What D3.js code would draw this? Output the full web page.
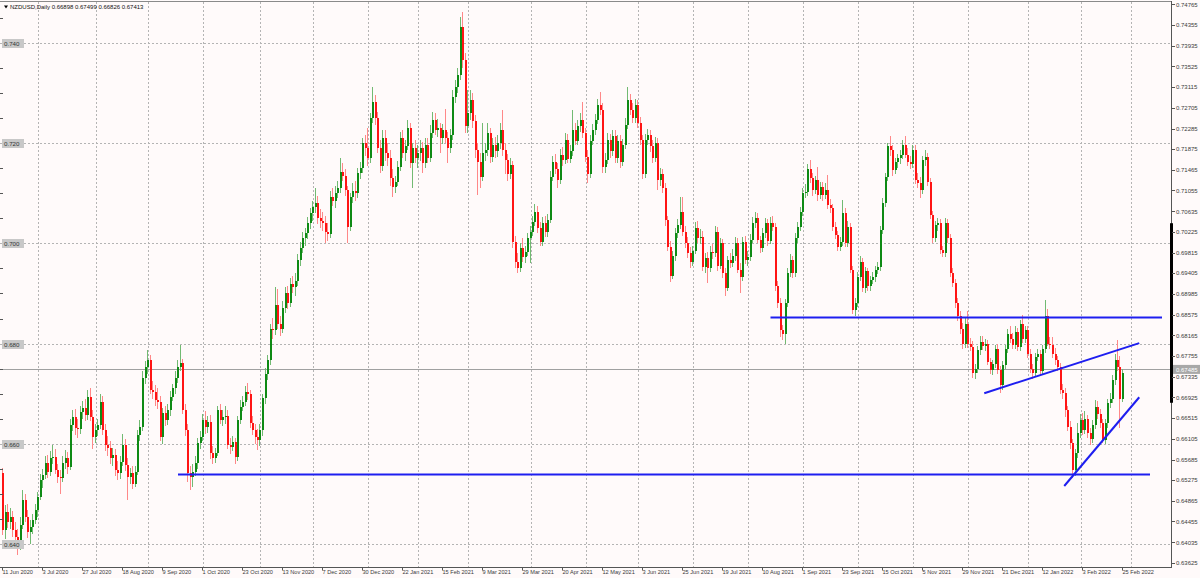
<!DOCTYPE html>
<html><head><meta charset="utf-8">
<script src="https://cdn.jsdelivr.net/npm/d3@7"></script>
<style>
html,body{margin:0;padding:0;background:#fffafa;overflow:hidden;}
svg{display:block;font-family:"Liberation Sans",Arial,sans-serif;}
</style></head><body>
<svg id="chart" width="1200" height="578"></svg>
<script>
// ---------------- DATA ----------------
const symbolTitle = "NZDUSD,Daily";
const lastBarText = ["0.66898", "0.67499", "0.66826", "0.67413"];

const open = [
.6541,.6428,.6465,.6445,.6455,.6428,.6415,.6395,.6438,.6488,
.6455,.6425,.6435,.6448,.6468,.6495,.6528,.6538,.6561,.6544,
.6571,.6574,.6548,.6534,.6531,.6561,.6571,.6554,.6637,.6653,
.6631,.6629,.6664,.6671,.6657,.6694,.6654,.6614,.6628,.6637,
.6684,.6628,.6598,.6591,.6571,.6578,.6548,.6541,.6564,.6598,
.6558,.6534,.6541,.6521,.6544,.6618,.6634,.6731,.6754,.6767,
.6707,.6704,.6687,.6684,.6614,.6661,.6647,.6667,.6694,.6711,
.6731,.6754,.6761,.6667,.6628,.6541,.6534,.6544,.6561,.6601,
.6614,.6647,.6634,.6644,.6581,.6571,.6581,.6667,.6647,.6653,
.6656,.6598,.6594,.6604,.6574,.6647,.6674,.6684,.6704,.6700,
.6641,.6628,.6614,.6608,.6627,.6691,.6740,.6767,.6830,.6827,
.6877,.6840,.6830,.6870,.6900,.6880,.6918,.6912,.6925,.6967,
.6990,.7010,.7020,.7040,.7060,.7073,.7080,.7050,.7045,.7040,
.7022,.7018,.7093,.7085,.7100,.7110,.7143,.7135,.7106,.7033,
.7093,.7105,.7100,.7140,.7150,.7199,.7190,.7170,.7249,.7282,
.7249,.7190,.7155,.7210,.7180,.7170,.7130,.7113,.7123,.7153,
.7210,.7180,.7193,.7230,.7160,.7190,.7170,.7180,.7190,.7160,
.7195,.7170,.7220,.7245,.7225,.7230,.7210,.7225,.7210,.7190,
.7215,.7292,.7312,.7335,.7432,.7365,.7233,.7260,.7286,.7243,
.7186,.7163,.7133,.7180,.7186,.7219,.7173,.7196,.7183,.7199,
.7226,.7186,.7166,.7139,.7156,.7003,.6963,.6950,.6990,.6973,
.6983,.7010,.7023,.7043,.7063,.7030,.7003,.7040,.7023,.7046,
.7133,.7163,.7149,.7126,.7176,.7166,.7206,.7169,.7183,.7226,
.7203,.7233,.7246,.7219,.7173,.7139,.7203,.7226,.7246,.7276,
.7266,.7153,.7166,.7206,.7183,.7213,.7170,.7203,.7163,.7196,
.7236,.7286,.7266,.7250,.7276,.7240,.7206,.7139,.7206,.7216,
.7193,.7170,.7200,.7126,.7139,.7110,.7046,.6993,.6935,.6975,
.7020,.7037,.7063,.7023,.7000,.6980,.6963,.6985,.7030,.7010,
.7013,.6953,.6970,.6950,.6983,.6980,.7023,.6955,.7000,.6940,
.6910,.6967,.6960,.6975,.7000,.6947,.6933,.7003,.6967,.6972,
.7007,.7040,.7050,.7007,.6990,.7020,.7040,.7005,.7040,.7033,
.6914,.6880,.6827,.6820,.6880,.6940,.6967,.6940,.7010,.7033,
.7063,.7100,.7103,.7149,.7130,.7106,.7126,.7096,.7113,.7096,
.7106,.7076,.7070,.7033,.7016,.6993,.7003,.7060,.7000,.7033,
.6947,.6867,.6880,.6933,.6963,.6910,.6944,.6914,.6927,.6933,
.6947,.6953,.7026,.7080,.7133,.7193,.7186,.7146,.7163,.7170,
.7176,.7196,.7176,.7163,.7159,.7186,.7126,.7120,.7106,.7166,
.7173,.7123,.7056,.7010,.7036,.7040,.6987,.6980,.7040,.7010,
.6940,.6920,.6880,.6854,.6830,.6800,.6840,.6800,.6794,.6741,
.6750,.6787,.6804,.6796,.6800,.6764,.6747,.6760,.6790,.6747,
.6717,.6757,.6790,.6820,.6810,.6798,.6824,.6794,.6840,.6810,
.6827,.6780,.6750,.6741,.6774,.6780,.6745,.6790,.6854,.6800,
.6797,.6780,.6767,.6754,.6707,.6701,.6668,.6634,.6601,.6548,
.6581,.6621,.6648,.6628,.6650,.6621,.6610,.6638,.6674,.6660,
.6641,.6608,.6641,.6681,.6690,.6727,.6767,.6754,.66898
];
const high = [
.6552,.6478,.6481,.6472,.6466,.6445,.6430,.6455,.6508,.6501,
.6468,.6448,.6460,.6480,.6505,.6540,.6550,.6575,.6578,.6585,
.6598,.6590,.6560,.6548,.6575,.6588,.6584,.6650,.6668,.6670,
.6650,.6676,.6685,.6690,.6708,.6712,.6668,.6640,.6650,.6700,
.6695,.6640,.6615,.6605,.6592,.6590,.6565,.6575,.6620,.6610,
.6572,.6552,.6555,.6555,.6628,.6648,.6745,.6765,.6787,.6778,
.6725,.6718,.6712,.6695,.6672,.6675,.6680,.6705,.6720,.6745,
.6768,.6797,.6770,.6680,.6640,.6555,.6560,.6575,.6612,.6625,
.6660,.6665,.6655,.6658,.6595,.6592,.6675,.6680,.6668,.6675,
.6668,.6612,.6615,.6612,.6655,.6688,.6695,.6715,.6721,.6708,
.6655,.6640,.6630,.6640,.6700,.6752,.6778,.6840,.6851,.6912,
.6909,.6855,.6885,.6912,.6915,.6930,.6935,.6940,.6978,.7002,
.7022,.7030,.7052,.7070,.7085,.7110,.7095,.7068,.7062,.7055,
.7040,.7105,.7110,.7115,.7125,.7170,.7160,.7148,.7115,.7100,
.7120,.7125,.7150,.7162,.7210,.7215,.7230,.7260,.7312,.7295,
.7262,.7205,.7225,.7225,.7200,.7185,.7148,.7135,.7165,.7222,
.7225,.7205,.7245,.7240,.7200,.7205,.7195,.7205,.7202,.7210,
.7210,.7235,.7262,.7260,.7248,.7240,.7238,.7268,.7222,.7228,
.7305,.7325,.7350,.7452,.7462,.7380,.7306,.7306,.7300,.7255,
.7200,.7180,.7240,.7200,.7239,.7230,.7210,.7212,.7215,.7240,
.7266,.7200,.7178,.7170,.7165,.7015,.6980,.7000,.7010,.6995,
.7020,.7035,.7055,.7078,.7075,.7042,.7052,.7055,.7058,.7145,
.7175,.7178,.7160,.7188,.7192,.7220,.7218,.7195,.7266,.7240,
.7245,.7260,.7282,.7230,.7185,.7215,.7238,.7258,.7288,.7302,
.7280,.7180,.7220,.7218,.7225,.7225,.7215,.7215,.7208,.7250,
.7312,.7298,.7280,.7288,.7285,.7252,.7215,.7218,.7228,.7225,
.7205,.7212,.7210,.7150,.7148,.7120,.7055,.7005,.6985,.7030,
.7048,.7093,.7093,.7035,.7012,.6992,.6995,.7042,.7045,.7028,
.7025,.6980,.6982,.6995,.6998,.7035,.7032,.7010,.7008,.6950,
.6975,.6980,.6988,.7012,.7010,.6960,.7012,.7015,.6985,.7018,
.7052,.7062,.7060,.7015,.7030,.7050,.7048,.7052,.7055,.7040,
.6925,.6890,.6838,.6888,.6950,.6978,.6975,.7020,.7042,.7072,
.7110,.7118,.7158,.7166,.7140,.7135,.7153,.7122,.7122,.7120,
.7136,.7088,.7078,.7042,.7025,.7012,.7086,.7070,.7045,.7040,
.6955,.6890,.6942,.6975,.6970,.6952,.6950,.6935,.6942,.6955,
.6962,.7035,.7090,.7140,.7200,.7213,.7195,.7170,.7178,.7185,
.7205,.7213,.7190,.7175,.7195,.7195,.7140,.7132,.7175,.7185,
.7180,.7130,.7065,.7045,.7050,.7048,.6995,.7050,.7048,.7018,
.6950,.6928,.6890,.6865,.6842,.6852,.6864,.6812,.6805,.6760,
.6795,.6815,.6815,.6810,.6808,.6772,.6768,.6798,.6800,.6755,
.6765,.6798,.6830,.6835,.6822,.6835,.6832,.6848,.6857,.6835,
.6835,.6790,.6760,.6782,.6790,.6788,.6798,.6887,.6868,.6814,
.6814,.6792,.6775,.6762,.6720,.6712,.6675,.6645,.6610,.6590,
.6641,.6660,.6662,.6665,.6658,.6632,.6648,.6688,.6685,.6670,
.6650,.6650,.6690,.6702,.6738,.6780,.6807,.6775,.67499
];
const low = [
.6418,.6410,.6432,.6430,.6415,.6402,.6378,.6388,.6430,.6445,
.6412,.6401,.6420,.6440,.6455,.6488,.6512,.6530,.6532,.6536,
.6560,.6540,.6522,.6501,.6524,.6550,.6540,.6548,.6625,.6618,
.6612,.6620,.6650,.6645,.6648,.6645,.6590,.6602,.6615,.6630,
.6618,.6585,.6575,.6560,.6555,.6535,.6528,.6530,.6555,.6545,
.6488,.6520,.6510,.6515,.6538,.6605,.6625,.6720,.6740,.6700,
.6690,.6675,.6670,.6605,.6600,.6635,.6638,.6655,.6685,.6700,
.6722,.6745,.6660,.6615,.6525,.6508,.6515,.6535,.6550,.6590,
.6605,.6620,.6622,.6570,.6560,.6562,.6575,.6640,.6635,.6640,
.6590,.6580,.6585,.6560,.6565,.6640,.6665,.6675,.6688,.6632,
.6618,.6600,.6588,.6595,.6615,.6680,.6728,.6758,.6810,.6818,
.6830,.6815,.6822,.6860,.6868,.6872,.6900,.6895,.6915,.6955,
.6980,.6995,.7008,.7028,.7045,.7060,.7038,.7030,.7025,.7000,
.7005,.7010,.7075,.7070,.7090,.7100,.7125,.7095,.7000,.7025,
.7080,.7085,.7090,.7128,.7140,.7175,.7155,.7160,.7240,.7235,
.7180,.7140,.7145,.7165,.7155,.7115,.7093,.7100,.7115,.7145,
.7170,.7165,.7185,.7150,.7110,.7160,.7150,.7165,.7140,.7150,
.7160,.7162,.7210,.7215,.7212,.7180,.7198,.7200,.7160,.7180,
.7205,.7280,.7300,.7325,.7350,.7220,.7220,.7245,.7230,.7170,
.7096,.7110,.7125,.7165,.7175,.7160,.7162,.7170,.7172,.7188,
.7175,.7139,.7125,.7128,.6990,.6950,.6940,.6942,.6962,.6960,
.6975,.6960,.7015,.7035,.7020,.6995,.6995,.7012,.7012,.7040,
.7125,.7138,.7110,.7118,.7155,.7158,.7160,.7160,.7175,.7195,
.7195,.7222,.7210,.7162,.7120,.7130,.7195,.7215,.7238,.7255,
.7140,.7140,.7158,.7170,.7175,.7160,.7160,.7150,.7155,.7188,
.7228,.7255,.7240,.7240,.7230,.7195,.7128,.7130,.7195,.7182,
.7160,.7162,.7106,.7115,.7100,.7035,.6985,.6922,.6928,.6965,
.7010,.7028,.7015,.6990,.6970,.6950,.6955,.6978,.7000,.6998,
.6945,.6940,.6920,.6942,.6968,.6972,.6945,.6948,.6930,.6894,
.6905,.6950,.6952,.6965,.6940,.6900,.6925,.6958,.6955,.6965,
.7000,.7030,.7000,.6980,.6982,.7010,.6995,.6998,.7025,.6905,
.6870,.6814,.6808,.6800,.6872,.6932,.6930,.6932,.7000,.7025,
.7055,.7090,.7095,.7120,.7095,.7098,.7085,.7088,.7085,.7088,
.7068,.7060,.7025,.7008,.6985,.6985,.6995,.6992,.6992,.6940,
.6858,.6855,.6872,.6925,.6902,.6900,.6905,.6905,.6918,.6922,
.6938,.6945,.7018,.7072,.7125,.7175,.7135,.7138,.7150,.7158,
.7168,.7170,.7155,.7148,.7150,.7118,.7110,.7090,.7098,.7155,
.7115,.7048,.7000,.7002,.7025,.6978,.6972,.6972,.7000,.6932,
.6912,.6870,.6845,.6820,.6790,.6792,.6792,.6785,.6732,.6730,
.6742,.6778,.6788,.6785,.6758,.6740,.6738,.6752,.6740,.6701,
.6708,.6750,.6782,.6802,.6790,.6790,.6785,.6786,.6802,.6802,
.6772,.6742,.6730,.6735,.6765,.6738,.6738,.6782,.6795,.6790,
.6772,.6758,.6745,.6700,.6690,.6654,.6625,.6590,.6531,.6535,
.6572,.6612,.6618,.6620,.6612,.6598,.6602,.6630,.6650,.6632,
.6601,.6600,.6632,.6672,.6682,.6718,.6745,.6631,.66826
];
const close = [
.6428,.6465,.6445,.6455,.6428,.6415,.6395,.6438,.6488,.6455,
.6425,.6435,.6448,.6468,.6495,.6528,.6538,.6561,.6544,.6571,
.6574,.6548,.6534,.6531,.6561,.6571,.6554,.6637,.6653,.6631,
.6629,.6664,.6671,.6657,.6694,.6654,.6614,.6628,.6637,.6684,
.6628,.6598,.6591,.6571,.6578,.6548,.6541,.6564,.6598,.6558,
.6534,.6541,.6521,.6544,.6618,.6634,.6731,.6754,.6767,.6707,
.6704,.6687,.6684,.6614,.6661,.6647,.6667,.6694,.6711,.6731,
.6754,.6761,.6667,.6628,.6541,.6534,.6544,.6561,.6601,.6614,
.6647,.6634,.6644,.6581,.6571,.6581,.6667,.6647,.6653,.6656,
.6598,.6594,.6604,.6574,.6647,.6674,.6684,.6704,.6700,.6641,
.6628,.6614,.6608,.6627,.6691,.6740,.6767,.6830,.6827,.6877,
.6840,.6830,.6870,.6900,.6880,.6918,.6912,.6925,.6967,.6990,
.7010,.7020,.7040,.7060,.7073,.7080,.7050,.7045,.7040,.7022,
.7018,.7093,.7085,.7100,.7110,.7143,.7135,.7106,.7033,.7093,
.7105,.7100,.7140,.7150,.7199,.7190,.7170,.7249,.7282,.7249,
.7190,.7155,.7210,.7180,.7170,.7130,.7113,.7123,.7153,.7210,
.7180,.7193,.7230,.7160,.7190,.7170,.7180,.7190,.7160,.7195,
.7170,.7220,.7245,.7225,.7230,.7210,.7225,.7210,.7190,.7215,
.7292,.7312,.7335,.7432,.7365,.7233,.7260,.7286,.7243,.7186,
.7163,.7133,.7180,.7186,.7219,.7173,.7196,.7183,.7199,.7226,
.7186,.7166,.7139,.7156,.7003,.6963,.6950,.6990,.6973,.6983,
.7010,.7023,.7043,.7063,.7030,.7003,.7040,.7023,.7046,.7133,
.7163,.7149,.7126,.7176,.7166,.7206,.7169,.7183,.7226,.7203,
.7233,.7246,.7219,.7173,.7139,.7203,.7226,.7246,.7276,.7266,
.7153,.7166,.7206,.7183,.7213,.7170,.7203,.7163,.7196,.7236,
.7286,.7266,.7250,.7276,.7240,.7206,.7139,.7206,.7216,.7193,
.7170,.7200,.7126,.7139,.7110,.7046,.6993,.6935,.6975,.7020,
.7037,.7063,.7023,.7000,.6980,.6963,.6985,.7030,.7010,.7013,
.6953,.6970,.6950,.6983,.6980,.7023,.6955,.7000,.6940,.6910,
.6967,.6960,.6975,.7000,.6947,.6933,.7003,.6967,.6972,.7007,
.7040,.7050,.7007,.6990,.7020,.7040,.7005,.7040,.7033,.6914,
.6880,.6827,.6820,.6880,.6940,.6967,.6940,.7010,.7033,.7063,
.7100,.7103,.7149,.7130,.7106,.7126,.7096,.7113,.7096,.7106,
.7076,.7070,.7033,.7016,.6993,.7003,.7060,.7000,.7033,.6947,
.6867,.6880,.6933,.6963,.6910,.6944,.6914,.6927,.6933,.6947,
.6953,.7026,.7080,.7133,.7193,.7186,.7146,.7163,.7170,.7176,
.7196,.7176,.7163,.7159,.7186,.7126,.7120,.7106,.7166,.7173,
.7123,.7056,.7010,.7036,.7040,.6987,.6980,.7040,.7010,.6940,
.6920,.6880,.6854,.6830,.6800,.6840,.6800,.6794,.6741,.6750,
.6787,.6804,.6796,.6800,.6764,.6747,.6760,.6790,.6747,.6717,
.6757,.6790,.6820,.6810,.6798,.6824,.6794,.6840,.6810,.6827,
.6780,.6750,.6741,.6774,.6780,.6745,.6790,.6854,.6800,.6797,
.6780,.6767,.6754,.6707,.6701,.6668,.6634,.6601,.6548,.6581,
.6621,.6648,.6628,.6650,.6621,.6610,.6638,.6674,.6660,.6641,
.6608,.6641,.6681,.6690,.6727,.6767,.6754,.6690,.67413
];

// date axis labels and the bar index each one sits on
const dateLabels = ["11 Jun 2020","3 Jul 2020","27 Jul 2020","18 Aug 2020","9 Sep 2020","1 Oct 2020","23 Oct 2020","13 Nov 2020","7 Dec 2020","30 Dec 2020","22 Jan 2021","15 Feb 2021","9 Mar 2021","29 Mar 2021","20 Apr 2021","12 May 2021","3 Jun 2021","25 Jun 2021","19 Jul 2021","10 Aug 2021","1 Sep 2021","23 Sep 2021","15 Oct 2021","5 Nov 2021","29 Nov 2021","21 Dec 2021","12 Jan 2022","3 Feb 2022","25 Feb 2022"];
const dateLabelIdx = [0,16,32,48,64,80,96,112,128,144,160,176,192,208,224,240,256,272,288,304,320,336,352,368,384,400,416,432,448];
// vertical grid (month starts), as bar indices
const monthGridIdx = [14,37,58,80,103,124,146,166,186,211,233,254,276,298,320,342,364,386,410,431,451];
// right price scale labels
const priceLabels = ["0.74765","0.74355","0.73935","0.73525","0.73115","0.72705","0.72285","0.71875","0.71465","0.71055","0.70635","0.70225","0.69815","0.69405","0.68985","0.68575","0.68165","0.67755","0.67335","0.66925","0.66515","0.66105","0.65685","0.65275","0.64865","0.64455","0.64035","0.63625"];
// horizontal dotted levels with left labels
const gridPrices = [0.740, 0.720, 0.700, 0.680, 0.660, 0.640];
const gridLabels = ["0.740","0.720","0.700","0.680","0.660","0.640"];
const minorTickPrices = [0.745,0.735,0.730,0.725,0.715,0.710,0.705,0.695,0.690,0.685,0.675,0.670,0.665,0.655,0.650,0.645];
const bidPrice = 0.67485;
const bidLabel = "0.67485";
const scaleMarkRange = [0.7040, 0.6682];
// drawn trend lines: [barIndex, price] endpoints
const supportLine = [[70, 0.6539], [458.8, 0.6539]];
const resistanceLine = [[307, 0.6852], [463.6, 0.6852]];
const risingLineUpper = [[392.5, 0.6701], [454.5, 0.6801]];
const risingLineLower = [[424.5, 0.6516], [454.5, 0.6693]];

// ---------------- CHART ----------------
const W = 1200, H = 578;
const plotRight = 1171, plotTop = 2, plotBottom = 567;
const x = d3.scaleLinear().domain([0, 448]).range([3, 1123]);
const y = d3.scaleLinear().domain([0.63625, 0.74765]).range([563, 4.3]);
const svg = d3.select("#chart");
const txt = "#3a3a3a";

svg.append("rect").attr("width", W).attr("height", H).attr("fill", "#fffafa");
svg.append("clipPath").attr("id", "plot").append("rect")
  .attr("x", 0).attr("y", plotTop).attr("width", plotRight).attr("height", plotBottom - plotTop);
const g = svg.append("g").attr("clip-path", "url(#plot)");

// grid
g.selectAll(".hg").data(gridPrices).enter().append("line")
  .attr("x1", 0).attr("x2", plotRight)
  .attr("y1", d => Math.round(y(d)) + 0.5).attr("y2", d => Math.round(y(d)) + 0.5)
  .attr("stroke", "#b4b4b4").attr("stroke-dasharray", "2,2");
g.selectAll(".vg").data(monthGridIdx).enter().append("line")
  .attr("x1", d => Math.round(x(d)) + 0.5).attr("x2", d => Math.round(x(d)) + 0.5)
  .attr("y1", plotTop).attr("y2", plotBottom)
  .attr("stroke", "#b4b4b4").attr("stroke-dasharray", "2,2");

// bid line
g.append("line").attr("x1", 0).attr("x2", plotRight)
  .attr("y1", Math.round(y(bidPrice)) + 0.5).attr("y2", Math.round(y(bidPrice)) + 0.5)
  .attr("stroke", "#a0a0a0").attr("stroke-width", 1);

// candles
const bars = close.map((c, i) => ({ i, o: open[i], h: high[i], l: low[i], c }));
const upBody = "#0e8a14", upWick = "#72ba72", dnBody = "#ff1414", dnWick = "#ff8888";
const cg = g.append("g").attr("shape-rendering", "crispEdges");
cg.selectAll(".wick").data(bars).enter().append("line")
  .attr("x1", d => Math.round(x(d.i)) - 0.5).attr("x2", d => Math.round(x(d.i)) - 0.5)
  .attr("y1", d => y(d.h)).attr("y2", d => y(d.l))
  .attr("stroke", d => d.c >= d.o ? upWick : dnWick).attr("stroke-width", 1);
cg.selectAll(".body").data(bars).enter().append("rect")
  .attr("x", d => Math.round(x(d.i)) - 1).attr("width", 2)
  .attr("y", d => y(Math.max(d.o, d.c)))
  .attr("height", d => Math.max(1, y(Math.min(d.o, d.c)) - y(Math.max(d.o, d.c))))
  .attr("fill", d => d.c >= d.o ? upBody : dnBody);

// trend lines
const lineGen = d3.line().x(d => x(d[0])).y(d => y(d[1]));
[supportLine, resistanceLine, risingLineUpper, risingLineLower].forEach(pts => {
  g.append("path").attr("d", lineGen(pts)).attr("fill", "none")
    .attr("stroke", "#1e1ef0").attr("stroke-width", 2);
});

// frame
svg.append("line").attr("x1", 0).attr("x2", plotRight + 0.5).attr("y1", 1.5).attr("y2", 1.5).attr("stroke", "#8a8a8a");
svg.append("line").attr("x1", 0).attr("x2", plotRight + 0.5).attr("y1", plotBottom + 0.5).attr("y2", plotBottom + 0.5).attr("stroke", "#555");
svg.append("line").attr("x1", plotRight + 0.5).attr("x2", plotRight + 0.5).attr("y1", 1).attr("y2", plotBottom + 1).attr("stroke", "#555");
svg.append("rect").attr("x", plotRight - 1).attr("width", 3)
  .attr("y", y(scaleMarkRange[0])).attr("height", y(scaleMarkRange[1]) - y(scaleMarkRange[0])).attr("fill", "#000");

// left level labels
const ll = svg.append("g");
ll.selectAll("rect").data(gridPrices).enter().append("rect")
  .attr("x", 2).attr("y", d => Math.round(y(d)) - 4).attr("width", 22).attr("height", 9)
  .attr("fill", "#c8c8c8");
ll.selectAll("text").data(gridPrices).enter().append("text")
  .attr("x", 4).attr("y", d => Math.round(y(d)) + 2.8)
  .attr("font-size", 6.2).attr("fill", "#333").text((d, k) => gridLabels[k]);
svg.selectAll(".mt").data(minorTickPrices).enter().append("line")
  .attr("x1", 0).attr("x2", 3)
  .attr("y1", d => Math.round(y(d)) + 0.5).attr("y2", d => Math.round(y(d)) + 0.5)
  .attr("stroke", "#555");

// right price scale
const ra = svg.append("g");
ra.selectAll("line").data(priceLabels).enter().append("line")
  .attr("x1", plotRight + 1).attr("x2", plotRight + 4)
  .attr("y1", d => Math.round(y(+d)) + 0.5).attr("y2", d => Math.round(y(+d)) + 0.5)
  .attr("stroke", "#555");
ra.selectAll("text").data(priceLabels).enter().append("text")
  .attr("x", plotRight + 5).attr("y", d => y(+d) + 2.2)
  .attr("font-size", 6).attr("fill", txt).text(d => d);
svg.append("rect").attr("x", plotRight + 2).attr("y", y(bidPrice) - 4.5).attr("width", 27).attr("height", 9).attr("fill", "#a8a8a8");
svg.append("text").attr("x", plotRight + 5).attr("y", y(bidPrice) + 2.2)
  .attr("font-size", 6).attr("fill", "#ffffff").text(bidLabel);

// date axis
const da = svg.append("g");
da.selectAll("line").data(dateLabelIdx).enter().append("line")
  .attr("x1", d => Math.round(x(d)) - 0.5).attr("x2", d => Math.round(x(d)) - 0.5)
  .attr("y1", plotBottom + 1).attr("y2", plotBottom + 3.5).attr("stroke", "#555");
da.selectAll("text").data(dateLabelIdx).enter().append("text")
  .attr("x", d => x(d) - 0.5).attr("y", 574)
  .attr("font-size", 5.6).attr("fill", txt).text((d, k) => dateLabels[k]);

// header
svg.append("path").attr("d", "M4,5.5 L8,5.5 L6,8.5 Z").attr("fill", "#000");
svg.append("text").attr("x", 10).attr("y", 9.2).attr("font-size", 6).attr("fill", "#111")
  .text(symbolTitle + "  " + lastBarText.join(" "));
</script>
</body></html>
